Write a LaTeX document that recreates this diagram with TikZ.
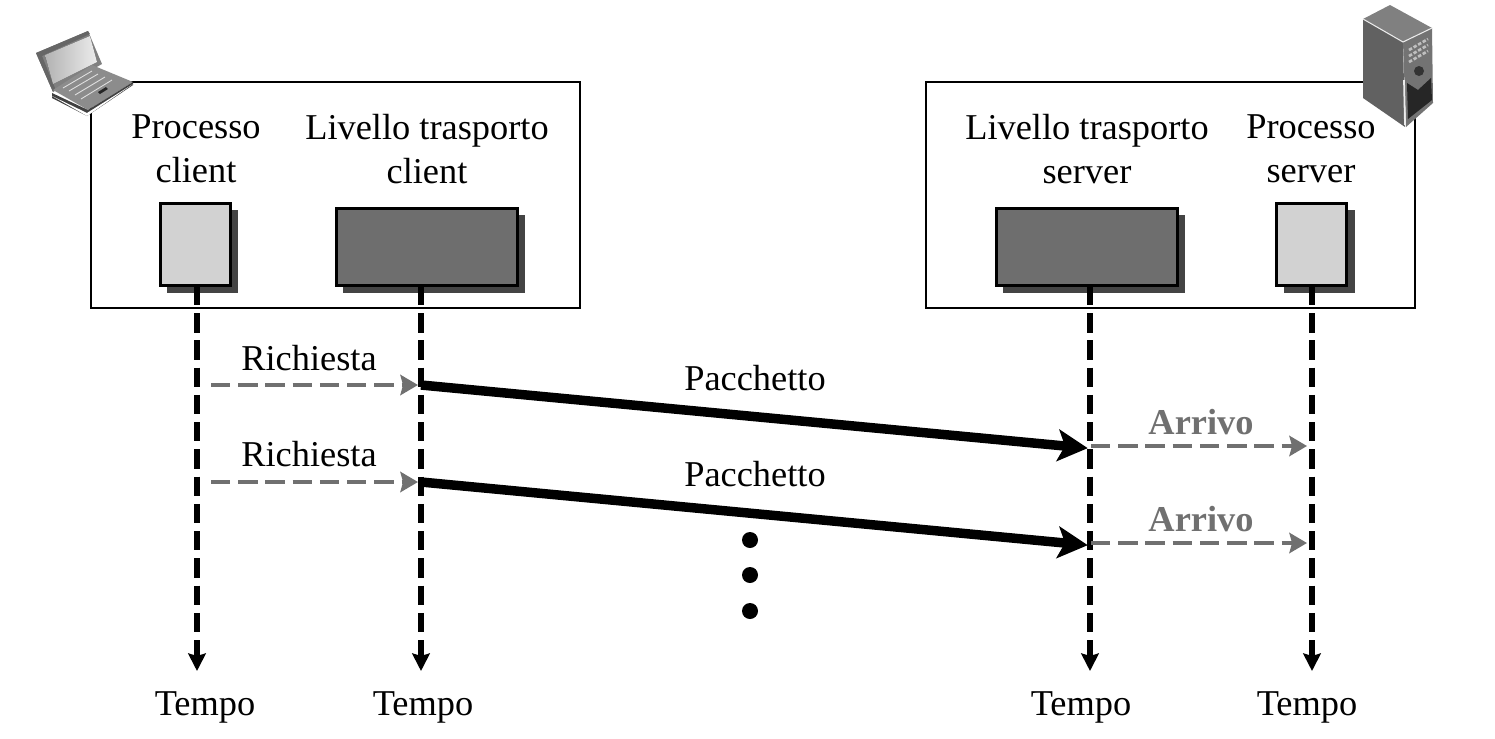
\documentclass[tikz,border=0pt]{standalone}
\usepackage{fontspec}
\setmainfont{Liberation Serif}
\usetikzlibrary{arrows.meta}
\pgfdeclarelayer{bg}
\pgfsetlayers{bg,main}
\definecolor{lightbox}{HTML}{D2D2D2}
\definecolor{darkbox}{HTML}{6E6E6E}
\definecolor{shadowbox}{HTML}{444444}
\definecolor{arrowgray}{HTML}{707070}
\tikzset{
    every node/.style={inner sep=0mm, font=\fontsize{20.7}{25}\selectfont, align=center},
    host/.style={rectangle, draw, line width=.8pt, fill=white, minimum width=9.78cm, minimum height=4.52cm},
    proc/.style={rectangle, draw, line width=1.3pt, fill=lightbox, minimum width=1.4cm, minimum height=1.64cm},
    trans/.style={rectangle, draw, line width=1.3pt, fill=darkbox, minimum width=3.62cm, minimum height=1.54cm},
    shade/.style={rectangle, fill=shadowbox},
    life/.style={dash pattern=on 11pt off 4.5pt, line width=3pt, -{Stealth[length=10pt,width=10pt,inset=1.5pt]}},
    req/.style={draw=arrowgray, dash pattern=on 11pt off 4.5pt, line width=2.6pt, -{Stealth[length=10pt,width=11.5pt,inset=1.5pt,fill=arrowgray]}},
    pack/.style={line width=5.4pt, -{Stealth[length=17pt,width=18pt,inset=4pt]}, shorten >=-1pt},
    dot/.style={circle, fill, minimum size=.32cm},
}
\begin{document}
\begin{tikzpicture}[x=.02cm, y=-.02cm]
        \useasboundingbox (0,0) rectangle (1495,738);
        % boxes
        \node (hostc) [host] at (335.5,195) {};
        \node (hosts) [host] at (1170.5,195) {};
        \node (shpc) [shade, minimum width=1.42cm, minimum height=1.66cm] at (202.5,251.5) {};
        \node (shtc) [shade, minimum width=3.64cm, minimum height=1.56cm] at (434,254) {};
        \node (shts) [shade, minimum width=3.64cm, minimum height=1.56cm] at (1094,254) {};
        \node (shps) [shade, minimum width=1.42cm, minimum height=1.66cm] at (1319,251.5) {};
        \node (pc) [proc] at (195.5,244.5) {};
        \node (tc) [trans] at (427,247) {};
        \node (ts) [trans] at (1087,247) {};
        \node (ps) [proc] at (1311.5,244.5) {};
        \node (lpc) at (196,149) {Processo\\client};
        \node (ltc) at (427,149) {Livello trasporto\\client};
        \node (lts) at (1087,149) {Livello trasporto\\server};
        \node (lps) at (1311,149) {Processo\\server};
        % time
        \node (t1) at (205,707) {Tempo};
        \node (t2) at (423,707) {Tempo};
        \node (t3) at (1081,707) {Tempo};
        \node (t4) at (1307,707) {Tempo};
        \coordinate (s1) at (197,286);
        \coordinate (s2) at (421,286);
        \coordinate (s3) at (1090,286);
        \coordinate (s4) at (1312,286);
        \coordinate (e1) at (197,671);
        \coordinate (e2) at (421,671);
        \coordinate (e3) at (1090,671);
        \coordinate (e4) at (1312,671);
        \draw (s1) edge [life] (e1);
        \draw (s2) edge [life] (e2);
        \draw (s3) edge [life] (e3);
        \draw (s4) edge [life] (e4);
        % requests
        \coordinate (ra1) at (211,385);
        \coordinate (rb1) at (418,385);
        \coordinate (ra2) at (211,482);
        \coordinate (rb2) at (418,482);
        \coordinate (pa1) at (421,385);
        \coordinate (pb1) at (1086,448);
        \coordinate (pa2) at (421,482);
        \coordinate (pb2) at (1086,545);
        \coordinate (aa1) at (1091,446);
        \coordinate (ab1) at (1307,446);
        \coordinate (aa2) at (1091,543);
        \coordinate (ab2) at (1307,543);
        \draw (ra1) edge [req] (rb1);
        \draw (ra2) edge [req] (rb2);
        \draw (aa1) edge [req] (ab1);
        \draw (aa2) edge [req] (ab2);
        \draw (pa1) edge [pack] (pb1);
        \draw (pa2) edge [pack] (pb2);
        \node (r1) at (309,358) {Richiesta};
        \node (r2) at (309,454) {Richiesta};
        \node (k1) at (755,378) {Pacchetto};
        \node (k2) at (755,474) {Pacchetto};
        \node (a1) [text=arrowgray, font=\fontsize{20.7}{25}\selectfont\bfseries] at (1201,422) {Arrivo};
        \node (a2) [text=arrowgray, font=\fontsize{20.7}{25}\selectfont\bfseries] at (1201,519) {Arrivo};
        \node (d1) [dot] at (750,540) {};
        \node (d2) [dot] at (750,575) {};
        \node (d3) [dot] at (750,611) {};
        % laptop
        \fill [gray] (36,53) -- (88,31) -- (102,64) -- (53,92) -- cycle;
        \fill [black!60] (36,53) -- (88,31) -- (90,34) -- (42,56) -- (55,88) -- (53,92) -- cycle;
        \shade [left color=gray!60, right color=gray!15] (45,55) -- (90,36) -- (97,62) -- (53,84) -- cycle;
        \fill [black!45] (53,90) -- (92,65) -- (133,82) -- (88,110) -- cycle;
        \fill [black!75] (52,93) -- (88,110) -- (133,82) -- (133,85) -- (87,116) -- (52,98) -- cycle;
        \draw [gray!25, line width=.5pt] (63,88) -- (92,71) (69,91) -- (98,74) (75,95) -- (105,77) (81,99) -- (112,80);
        \fill [black!85] (98,92) -- (106,87) -- (108,89) -- (100,94) -- cycle;
        \fill [white] (52,96) -- (87,113) -- (133,84) -- (87,116) -- cycle;
        % server
        \fill [black!50] (1363,19) -- (1390,5) -- (1432,28) -- (1403,42) -- cycle;
        \fill [black!62] (1363,19) -- (1403,42) -- (1405,127) -- (1363,98) -- cycle;
        \fill [black!55] (1403,42) -- (1432,28) -- (1433,103) -- (1406,127) -- cycle;
        \fill [black!85] (1407,83) -- (1418,90) -- (1431,78) -- (1432,100) -- (1408,119) -- cycle;
        \draw [black!25, line width=1.5pt, dash pattern=on 2pt off 1pt] (1409,50) -- (1428,39) (1409,56) -- (1428,45) (1409,62) -- (1428,51);
        \fill [black!80] (1419,71) circle (5);
        \draw [gray!15, line width=.6pt] (1363,19) -- (1403,42) -- (1432,28);
        \draw [gray!15, line width=1pt] (1404,80) -- (1405,125);
\end{tikzpicture}
\end{document}
